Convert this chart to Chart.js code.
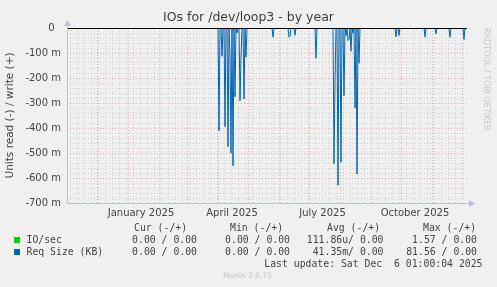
<!DOCTYPE html>
<html lang="en">

<head>
    <meta charset="UTF-8">
    <title>IOs for /dev/loop3 - by year</title>
    <script src="https://cdn.jsdelivr.net/npm/chart.js@4.4.1/dist/chart.umd.min.js"></script>
    <style>
        html, body { margin: 0; padding: 0; background: #f0f0f0; }
        #wrap { position: relative; width: 497px; height: 287px; }
    </style>
</head>

<body>
    <div id="wrap">
        <canvas id="myChart" width="497" height="287"></canvas>
    </div>

    <script>
        // x = days since Nov 1 2024 (1 px per day), y in milli-units
        const spikeDays = [152, 155, 158, 161, 163, 164, 166, 168, 170, 173, 174, 177, 179,
            206, 222, 223, 228, 249,
            267, 268, 271, 274, 277, 279, 281, 282, 284, 286, 288, 290, 292,
            329, 332, 358, 369, 383, 397];
        const reqSizeRead = [-411, -113, -395, -475, -107, -501, -551, -275, -20, -291, -116, -284, -116,
            -37, -37, -33, -29, -121,
            -544, -217, -629, -537, -271, -30, -50, -45, -93, -20, -320, -584, -141,
            -36, -30, -36, -24, -37, -46];
        const ioDays = [164, 249, 383, 397];
        const ioRead = [-6, -6, -6, -6];

        const monthDays = [30, 61, 92, 120, 151, 181, 212, 242, 273, 304, 334, 365, 395];
        const labelDays = [74, 165, 255.5, 348];
        const tickLabels = ['January 2025', 'April 2025', 'July 2025', 'October 2025'];
        const firstMonday = 3;
        const totalDays = 400;

        function daily(days, vals) {
            const out = [];
            for (let d = 0; d <= totalDays; d++) {
                const i = days.indexOf(d);
                out.push({ x: d, y: i >= 0 ? vals[i] : 0 });
            }
            return out;
        }

        const weekDays = [];
        for (let d = firstMonday; d < totalDays; d += 7) {
            if (!monthDays.includes(d)) weekDays.push(d);
        }

        const RED = 'rgba(230,140,140,0.7)';
        const GREY = 'rgba(200,200,200,0.75)';
        const AXIS = '#b9bfec';

        const extras = {
            id: 'extras',
            afterDatasetsDraw(chart) {
                // black zero rule
                const { ctx, chartArea: a, scales: { y } } = chart;
                ctx.save();
                ctx.strokeStyle = '#000';
                ctx.lineWidth = 1;
                const y0 = Math.round(y.getPixelForValue(0)) + 0.5;
                ctx.beginPath();
                ctx.moveTo(a.left, y0);
                ctx.lineTo(a.right, y0);
                ctx.stroke();
                ctx.restore();
            },
            afterDraw(chart) {
                const { ctx, chartArea: a } = chart;
                ctx.save();
                // axis lines + arrows
                ctx.strokeStyle = AXIS;
                ctx.fillStyle = AXIS;
                ctx.lineWidth = 1;
                ctx.beginPath();
                ctx.moveTo(a.left + 0.5, a.top - 2);
                ctx.lineTo(a.left + 0.5, a.bottom + 0.5);
                ctx.lineTo(a.right + 2, a.bottom + 0.5);
                ctx.stroke();
                ctx.beginPath();
                ctx.moveTo(a.left - 3, a.top - 2);
                ctx.lineTo(a.left + 4, a.top - 2);
                ctx.lineTo(a.left + 0.5, a.top - 8);
                ctx.fill();
                ctx.beginPath();
                ctx.moveTo(a.right + 2, a.bottom - 3);
                ctx.lineTo(a.right + 2, a.bottom + 4);
                ctx.lineTo(a.right + 8, a.bottom + 0.5);
                ctx.fill();

                // title
                ctx.fillStyle = '#3c3c3c';
                ctx.font = '12.5px "DejaVu Sans"';
                ctx.textAlign = 'center';
                ctx.textBaseline = 'middle';
                ctx.fillText('IOs for /dev/loop3 - by year', 248.5, 18);

                // watermark
                ctx.save();
                ctx.translate(486, 28);
                ctx.rotate(Math.PI / 2);
                ctx.fillStyle = '#c8c8c8';
                ctx.font = '8px "DejaVu Sans"';
                ctx.textAlign = 'left';
                ctx.fillText('RRDTOOL / TOBI OETIKER', 0, 0);
                ctx.restore();

                // legend
                ctx.font = '9.8px "DejaVu Sans Mono"';
                ctx.fillStyle = '#444';
                ctx.textAlign = 'left';
                const cols = [134, 230, 327, 423];
                ['Cur (-/+)', 'Min (-/+)', 'Avg (-/+)', 'Max (-/+)'].forEach((t, i) => ctx.fillText(t, cols[i], 228));
                const rows = [
                    { name: 'IO/sec', color: '#00cc00', vals: ['0.00 / 0.00', '0.00 / 0.00', '111.86u/ 0.00', '1.57 / 0.00'] },
                    { name: 'Req Size (KB)', color: '#0066b3', vals: ['0.00 / 0.00', '0.00 / 0.00', '41.35m/ 0.00', '81.56 / 0.00'] }
                ];
                const ends = [197, 290, 383.5, 477];
                rows.forEach((r, k) => {
                    const yy = 240 + k * 12;
                    ctx.fillStyle = r.color;
                    ctx.fillRect(14, yy - 3, 6, 6);
                    ctx.fillStyle = '#444';
                    ctx.textAlign = 'left';
                    ctx.fillText(r.name, 26.5, yy);
                    ctx.textAlign = 'right';
                    r.vals.forEach((v, i) => ctx.fillText(v, ends[i], yy));
                });
                ctx.textAlign = 'right';
                ctx.fillText('Last update: Sat Dec  6 01:00:04 2025', 482.5, 264);
                ctx.textAlign = 'center';
                ctx.fillStyle = '#c4c4c4';
                ctx.font = '7.5px "DejaVu Sans"';
                ctx.fillText('Munin 2.0.75', 247.5, 276);
                ctx.restore();
            }
        };

        const ctx = document.getElementById('myChart').getContext('2d');
        new Chart(ctx, {
            type: 'line',
            data: {
                datasets: [{
                    label: 'IO/sec',
                    data: daily(ioDays, ioRead),
                    borderColor: '#00cc00',
                    borderWidth: 1,
                    pointRadius: 0,
                    fill: false
                }, {
                    label: 'Req Size (KB)',
                    data: daily(spikeDays, reqSizeRead),
                    borderColor: '#0066b3',
                    borderWidth: 1,
                    pointRadius: 0,
                    fill: false
                }]
            },
            options: {
                responsive: false,
                animation: false,
                events: [],
                layout: { padding: { top: 28, right: 30, bottom: 64, left: 0 } },
                plugins: { legend: { display: false }, tooltip: { enabled: false } },
                scales: {
                    x: {
                        type: 'linear',
                        min: 0,
                        max: totalDays,
                        afterFit(s) { s.height = 20; },
                        afterBuildTicks(s) {
                            s.ticks = [...weekDays, ...monthDays, ...labelDays].map(v => ({ value: v }));
                        },
                        ticks: {
                            autoSkip: false,
                            maxRotation: 0,
                            padding: 4,
                            color: '#444',
                            font: { family: 'DejaVu Sans', size: 10 },
                            callback: v => {
                                const i = labelDays.indexOf(v);
                                return i >= 0 ? tickLabels[i] : '';
                            }
                        },
                        grid: {
                            drawTicks: false,
                            lineWidth: 1,
                            color: c => monthDays.includes(c.tick.value) ? RED : (labelDays.includes(c.tick.value) ? 'rgba(0,0,0,0)' : GREY)
                        },
                        border: { display: false, dash: [1, 2] }
                    },
                    y: {
                        min: -700,
                        max: 0,
                        afterFit(s) { s.width = 67; },
                        ticks: {
                            stepSize: 20,
                            autoSkip: false,
                            padding: 6,
                            color: '#444',
                            font: { family: 'DejaVu Sans', size: 10 },
                            callback: v => v % 100 !== 0 ? '' : (v === 0 ? '0  ' : v + ' m')
                        },
                        grid: {
                            drawTicks: false,
                            lineWidth: 1,
                            color: c => (c.tick.value === -700 || c.tick.value === 0) ? 'rgba(0,0,0,0)' : (c.tick.value % 100 === 0 ? RED : GREY)
                        },
                        border: { display: false, dash: [1, 2] },
                        title: {
                            display: true,
                            text: 'Units read (-) / write (+)',
                            color: '#444',
                            font: { family: 'DejaVu Sans', size: 10.5 },
                            padding: { top: 4, bottom: 0 }
                        }
                    }
                }
            },
            plugins: [extras]
        });
    </script>
</body>

</html>
